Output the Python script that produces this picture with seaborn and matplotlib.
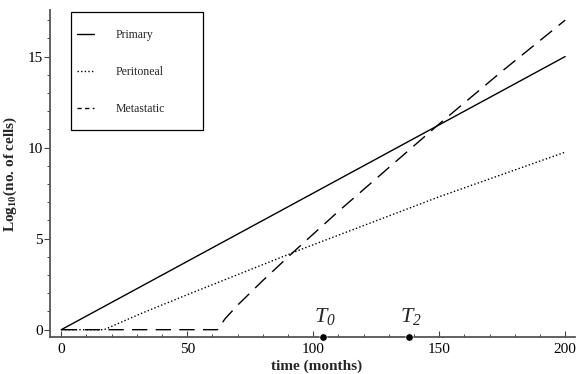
"""Tumour growth curves: primary, peritoneal and metastatic cell counts."""

import matplotlib.pyplot as plt
import numpy as np
import pandas as pd
import seaborn as sns
from matplotlib.patches import Rectangle

# values
primary_t = [0, 200]
primary_log = [0.0, 15.0]

peritoneal_t = [0, 17, 31, 50, 95, 150, 200]
peritoneal_log = [0.0, 0.0, 0.85, 1.92, 4.4, 7.3, 9.75]

metastatic_t = [0, 62, 65, 70, 80, 92, 110, 130, 150, 175, 200]
metastatic_log = [0.0, 0.0, 0.6, 1.35, 2.7, 4.25, 6.5, 8.9, 11.3, 14.2, 17.0]

# sf is mapped to an italic serif below, so the subscript digits are slanted too
event_labels = ["$\\mathit{T}_{\\mathsf{0}}$", "$\\mathit{T}_{\\mathsf{2}}$"]
event_times = [104, 138]

sns.set_style("ticks")
plt.rcParams["font.family"] = ["Liberation Serif", "DejaVu Serif"]
plt.rcParams["mathtext.fontset"] = "custom"
plt.rcParams["mathtext.rm"] = "Liberation Serif"
plt.rcParams["mathtext.it"] = "Liberation Serif:italic"
plt.rcParams["mathtext.sf"] = "Liberation Serif:italic"
plt.rcParams["mathtext.bf"] = "Liberation Serif:bold"

fig = plt.figure(figsize=(5.77, 3.74), dpi=100)
ax = fig.add_axes([0.087, 0.099, 0.91, 0.874])

styles = {
    "Primary": dict(linestyle="-"),
    "Peritoneal": dict(linestyle=(0, (1, 1.6))),
    "Metastatic": dict(linestyle=(0, (11, 6))),
}
series = [
    ("Primary", primary_t, primary_log),
    ("Peritoneal", peritoneal_t, peritoneal_log),
    ("Metastatic", metastatic_t, metastatic_log),
]
for name, t, y in series:
    df = pd.DataFrame({"time": t, "log_cells": y})
    sns.lineplot(data=df, x="time", y="log_cells", ax=ax, color="black",
                 linewidth=1.0, **styles[name])

ax.set_xlim(-4.4, 204)
ax.set_ylim(-0.4, 17.55)
ax.set_xticks([0, 50, 100, 150, 200])
ax.set_xticks(np.arange(0, 201, 10), minor=True)
ax.set_yticks([0, 5, 10, 15])
ax.set_yticks(np.arange(0, 18, 1), minor=True)
ax.tick_params(axis="x", which="major", direction="in", length=4, labelsize=11, pad=4)
ax.tick_params(axis="x", which="minor", direction="in", length=2.5)
ax.tick_params(axis="y", which="major", direction="out", length=4, labelsize=11, pad=1.5)
ax.tick_params(axis="y", which="minor", direction="out", length=2.5)
ax.tick_params(colors="#444444", labelcolor="black")

sns.despine(ax=ax)
for side in ["left", "bottom"]:
    ax.spines[side].set_color("#555555")
    ax.spines[side].set_linewidth(1.3)

ax.set_xlabel("time (months)", fontsize=11, fontweight="bold")
ax.set_ylabel("Log$_{\\mathbf{10}}$(no. of cells)", fontsize=11, fontweight="bold")
ax.xaxis.set_label_coords(0.507, -0.068)
ax.yaxis.set_label_coords(-0.059, 0.5)

# event markers on the time axis
y_axis = ax.get_ylim()[0]
sns.scatterplot(x=event_times, y=[y_axis] * len(event_times), ax=ax,
                color="black", s=28, zorder=5, clip_on=False, legend=False)
for label, t in zip(event_labels, event_times):
    ax.text(t + 0.8, y_axis + 0.55, label, fontsize=16, ha="center", va="bottom")

# legend: drawn frameless, with its own box
ax.add_patch(Rectangle((0.04, 0.633), 0.251, 0.361, transform=ax.transAxes,
                       fill=True, facecolor="white", edgecolor="black",
                       linewidth=0.9, zorder=6))
leg_handles = [plt.Line2D([], [], color="black", linewidth=1.0, **styles[n]) for n, _, _ in series]
leg_handles[2].set_linestyle((0, (3, 2.5)))
leg = ax.legend(leg_handles, [n for n, _, _ in series],
                loc="upper left", bbox_to_anchor=(0.051, 0.942),
                fontsize=8.5, handlelength=1.45, handletextpad=1.85,
                labelspacing=2.1, borderpad=0.0, borderaxespad=0.0,
                frameon=False)
leg.set_zorder(7)

fig.savefig("out.png", dpi=100)
